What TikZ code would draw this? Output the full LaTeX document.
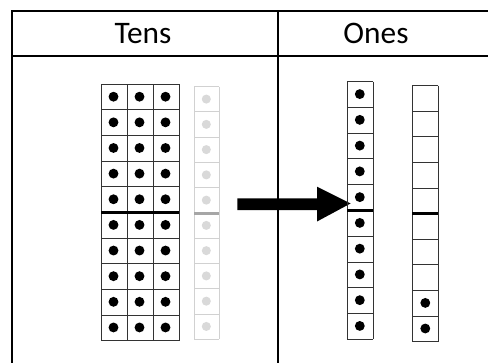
\documentclass[tikz,border=0pt]{standalone}
\usepackage{fontspec}
\setmainfont{Carlito}
\begin{document}
\begin{tikzpicture}[x=0.75pt,y=-0.75pt,
  frame/.style={line width=1.5pt,black},
  cellline/.style={draw=black!80,line width=0.75pt},
  fadeline/.style={draw=black!18,line width=0.75pt},
  midline/.style={line width=2.2pt,black},
  fademid/.style={line width=2.2pt,black!35},
  dot/.style={fill=black},
  fadedot/.style={fill=black!15},
  head/.style={font=\fontsize{23.5}{28}\selectfont,inner sep=0pt}]
\useasboundingbox (0,0) rectangle (488,363);
\begin{scope}
\clip (0,0) rectangle (488,363);
\draw[frame] (12,11) -- (495,11);
\draw[frame] (12,56) -- (495,56);
\draw[frame] (12,10.2) -- (12,370);
\draw[frame] (278,11) -- (278,370);
\end{scope}
\node[head] (tens) at (143,33.5) {Tens};
\node[head] (ones) at (376,33.5) {Ones};
% tens grid
\foreach \i in {0,...,10}
  \draw[cellline] (101,{84.3+25.64*\i}) -- (179,{84.3+25.64*\i});
\foreach \j in {0,...,3}
  \draw[cellline] ({101+26*\j},84.3) -- ({101+26*\j},340.7);
\draw[midline] (101,212.5) -- (179,212.5);
\foreach \c in {0,1,2}
  \foreach \r in {0,...,9}
    \fill[dot] ({113.5+26*\c},{84.3+25.64*\r+12.4}) circle[radius=3.7pt];
% faded rod
\foreach \i in {0,...,10}
  \draw[fadeline] (194.3,{86.7+25.26*\i}) -- (219.3,{86.7+25.26*\i});
\draw[fadeline] (194.3,86.7) -- (194.3,339.3);
\draw[fadeline] (219.3,86.7) -- (219.3,339.3);
\draw[fademid] (194.3,213.3) -- (219.3,213.3);
\foreach \r in {0,...,9}
  \fill[fadedot] (206.3,{86.7+25.26*\r+12.4}) circle[radius=3.4pt];
% arrow
\fill[black] (237.3,198.3) -- (317,198.3) -- (317,186.7) -- (350.5,203.5)
  -- (317,221.5) -- (317,210) -- (237.3,210) -- cycle;
% ones rod (full)
\foreach \i in {0,...,10}
  \draw[cellline] (347.3,{81.7+25.76*\i}) -- (373.3,{81.7+25.76*\i});
\draw[cellline] (347.3,81.7) -- (347.3,339.3);
\draw[cellline] (373.3,81.7) -- (373.3,339.3);
\draw[midline] (347.3,210.7) -- (373.3,210.7);
\foreach \r in {0,...,9}
  \fill[dot] (359.8,{81.7+25.76*\r+12.4}) circle[radius=3.7pt];
% ones rod (two)
\foreach \i in {0,...,10}
  \draw[cellline] (412.3,{85.7+25.6*\i}) -- (438.3,{85.7+25.6*\i});
\draw[cellline] (412.3,85.7) -- (412.3,341.7);
\draw[cellline] (438.3,85.7) -- (438.3,341.7);
\draw[midline] (412.3,213.7) -- (438.3,213.7);
\foreach \r in {8,9}
  \fill[dot] (425.3,{85.7+25.6*\r+12.4}) circle[radius=3.7pt];
\end{tikzpicture}
\end{document}
